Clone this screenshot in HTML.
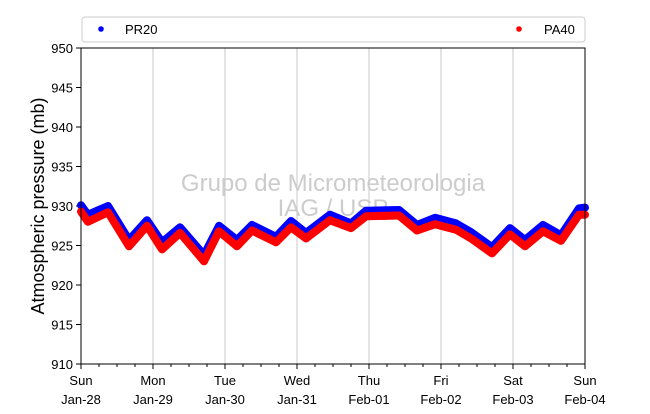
<!DOCTYPE html>
<html><head><meta charset="utf-8"><style>body{margin:0;background:#fff}svg{font-family:"Liberation Sans","DejaVu Sans",sans-serif}</style></head>
<body>
<svg id="c" width="650" height="409"></svg>
<script>
const hours=[0,2.3,9,16,22,27,33,41,46,52,57,65,70,75,83,90,95,106,112,118,125,130,137,143,148,154,160,166,168];
const pr20=[930.1,928.9,930.0,925.7,928.2,925.4,927.3,923.8,927.5,925.7,927.6,926.1,928.1,926.6,928.9,927.8,929.4,929.5,927.6,928.5,927.8,926.7,924.8,927.2,925.7,927.6,926.3,929.7,929.8];
const pa40=[929.3,928.0,929.2,924.9,927.5,924.5,926.6,923.0,926.8,924.9,926.9,925.4,927.3,925.9,928.2,927.2,928.7,928.8,926.9,927.7,927.0,925.9,924.0,926.4,924.9,926.8,925.6,928.9,928.9];
const yTicks=[910,915,920,925,930,935,940,945,950];
const dayLabels=[["Sun","Jan-28"],["Mon","Jan-29"],["Tue","Jan-30"],["Wed","Jan-31"],["Thu","Feb-01"],["Fri","Feb-02"],["Sat","Feb-03"],["Sun","Feb-04"]];
const X0=81,X1=585,Y0=48,Y1=364;
const xs=h=>X0+h/168*(X1-X0);
const ys=v=>Y1-(v-910)/40*(Y1-Y0);
const svg=document.getElementById('c');const NS="http://www.w3.org/2000/svg";
function mk(t,a,p){const e=document.createElementNS(NS,t);for(const k in a)e.setAttribute(k,a[k]);(p||svg).appendChild(e);return e;}
// grid
dayLabels.forEach((d,i)=>{const x=xs(i*24);
 if(i>0&&i<7){const g=mk('line',{x1:x,x2:x,y1:Y0,y2:Y1,stroke:'#c8c8c8','stroke-width':1});}
 const t=mk('line',{x1:x,x2:x,y1:Y1,y2:Y1+5,stroke:'#000'});
 const l=mk('text',{x:x,y:Y1+21,'font-size':13,'text-anchor':'middle'});l.textContent=d[0];
 const l2=mk('text',{x:x,y:Y1+40,'font-size':13,'text-anchor':'middle'});l2.textContent=d[1];
});
for(let h=6;h<168;h+=6){if(h%24==0)continue;const t=mk('line',{x1:xs(h),x2:xs(h),y1:Y1,y2:Y1+3,stroke:'#000'});}
yTicks.forEach(v=>{const y=ys(v);
 const t=mk('line',{x1:X0-5,x2:X0,y1:y,y2:y,stroke:'#000'});
 const l=mk('text',{x:X0-8,y:y+5,'font-size':13,'text-anchor':'end'});l.textContent=v;
});
const w1=mk('text',{x:333,y:191,'font-size':24,'text-anchor':'middle',fill:'#cccccc'});w1.textContent='Grupo de Micrometeorologia';
const w2=mk('text',{x:333,y:216,'font-size':24,'text-anchor':'middle',fill:'#cccccc'});w2.textContent='IAG / USP';
function series(vals,col,name){const d=hours.map((h,i)=>(i?'L':'M')+xs(h).toFixed(1)+','+ys(vals[i]).toFixed(1)).join('');
 const p=mk('path',{d:d,fill:'none',stroke:col,'stroke-width':8,'stroke-linejoin':'round','stroke-linecap':'round'});}
series(pr20,'#0000ff','series-pr20');
series(pa40,'#ff0000','series-pa40');
// cover overflow
const fr=mk('rect',{x:X0,y:Y0,width:X1-X0,height:Y1-Y0,fill:'none',stroke:'#000','stroke-width':1});
const yl=mk('text',{x:0,y:0,'font-size':18,'text-anchor':'middle',transform:'translate(44,206) rotate(-90)'});yl.textContent='Atmospheric pressure (mb)';
const lg=mk('g',{});
mk('rect',{x:82,y:17,width:503,height:25,rx:3,fill:'#fff',stroke:'#ccc'},lg);
const c1=mk('circle',{cx:101,cy:29,r:2.8,fill:'#0000ff'},lg);
const t1=mk('text',{x:125,y:34,'font-size':13},lg);t1.textContent='PR20';
const c2=mk('circle',{cx:519,cy:29,r:2.8,fill:'#ff0000'},lg);
const t2=mk('text',{x:544,y:34,'font-size':13},lg);t2.textContent='PA40';
</script>
</body></html>
